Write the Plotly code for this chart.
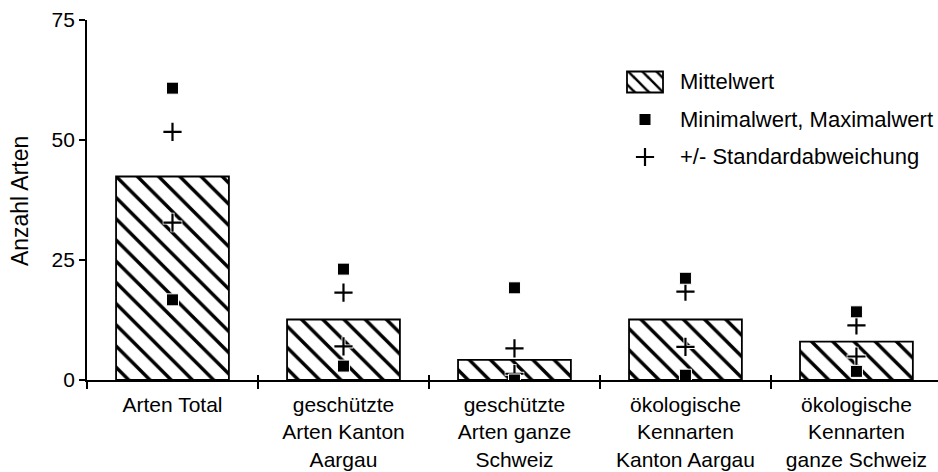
import plotly.graph_objects as go

# Species counts per category
categories = [
    "Arten Total",
    "geschützte<br>Arten Kanton<br>Aargau",
    "geschützte<br>Arten ganze<br>Schweiz",
    "ökologische<br>Kennarten<br>Kanton Aargau",
    "ökologische<br>Kennarten<br>ganze Schweiz",
]
mean_values = [42.4, 12.6, 4.2, 12.6, 8.0]
max_values = [60.8, 23.1, 19.2, 21.2, 14.2]
min_values = [16.7, 2.9, 0.0, 1.0, 1.8]
sd_upper = [51.7, 18.2, 6.6, 18.4, 11.4]
sd_lower = [32.8, 7.0, 1.3, 6.9, 4.9]

legend_labels = ["Mittelwert", "Minimalwert, Maximalwert", "+/- Standardabweichung"]
y_ticks = [0, 25, 50, 75]

FONT = "Liberation Sans, Arial, Helvetica, sans-serif"
n = len(categories)

fig = go.Figure()

# Hatched mean bars
fig.add_trace(go.Bar(
    x=categories, y=mean_values, width=0.66,
    marker=dict(
        color="white",
        line=dict(color="black", width=1.8),
        pattern=dict(shape="\\", size=15, solidity=0.23, fgopacity=1,
                     fgcolor="black", bgcolor="white", fillmode="replace"),
    ),
    showlegend=False, hoverinfo="skip",
))

# Standard deviation crosses (white halo underneath, black cross on top)
sd_x = categories + categories
sd_y = sd_upper + sd_lower
fig.add_trace(go.Scatter(
    x=sd_x, y=sd_y, mode="markers",
    marker=dict(symbol="cross-thin", size=14, line=dict(color="white", width=4)),
    showlegend=False, hoverinfo="skip",
))
fig.add_trace(go.Scatter(
    x=sd_x, y=sd_y, mode="markers",
    marker=dict(symbol="cross-thin", size=13, line=dict(color="black", width=2.2)),
    showlegend=False,
))

# Minimum / maximum squares
fig.add_trace(go.Scatter(
    x=categories + categories, y=max_values + min_values, mode="markers",
    marker=dict(symbol="square", size=12, color="black",
                line=dict(color="white", width=1)),
    showlegend=False,
))

# Boundary tick marks above the x axis line
fig.add_trace(go.Scatter(x=[], y=[], xaxis="x2", yaxis="y", showlegend=False))

# Legend keys drawn in a small inset axis
fig.add_trace(go.Bar(
    x=[25], y=[0.56], base=[-0.28], width=[36], xaxis="x3", yaxis="y3",
    marker=dict(
        color="white",
        line=dict(color="black", width=1.8),
        pattern=dict(shape="\\", size=10, solidity=0.25, fgopacity=1,
                     fgcolor="black", bgcolor="white", fillmode="replace"),
    ),
    showlegend=False, hoverinfo="skip",
))
fig.add_trace(go.Scatter(
    x=[25], y=[1], xaxis="x3", yaxis="y3", mode="markers",
    marker=dict(symbol="square", size=11, color="black"),
    showlegend=False, hoverinfo="skip",
))
fig.add_trace(go.Scatter(
    x=[25], y=[2], xaxis="x3", yaxis="y3", mode="markers",
    marker=dict(symbol="cross-thin", size=13, line=dict(color="black", width=2.2)),
    showlegend=False, hoverinfo="skip",
))

x_range = [-0.5, 4.477]

for i, label in enumerate(legend_labels):
    fig.add_annotation(
        xref="paper", yref="y3", x=0.6945, y=i, text=label,
        showarrow=False, xanchor="left", yanchor="middle",
        font=dict(family=FONT, size=22, color="black"),
    )

fig.add_annotation(
    xref="paper", yref="paper", x=-0.0787, y=0.497, text="Anzahl Arten",
    textangle=-90, showarrow=False, xanchor="center", yanchor="middle",
    font=dict(family=FONT, size=23, color="black"),
)

fig.update_layout(
    width=938, height=472,
    margin=dict(l=87, r=0, t=20, b=92),
    paper_bgcolor="white", plot_bgcolor="white",
    font=dict(family=FONT, size=21, color="black"),
    xaxis=dict(
        type="category", range=x_range,
        showline=True, linecolor="black", linewidth=1.8,
        tickson="boundaries", ticks="outside", ticklen=7,
        tickwidth=1.6, tickcolor="black",
        ticklabelstandoff=5,
        showgrid=False, zeroline=False,
        tickfont=dict(family=FONT, size=21, color="black"),
    ),
    xaxis2=dict(
        overlaying="x", anchor="y", type="linear", range=x_range,
        tickmode="array", tickvals=[i + 0.5 for i in range(n - 1)],
        ticks="inside", ticklen=5, tickwidth=1.6, tickcolor="black",
        showticklabels=False, showline=False, showgrid=False, zeroline=False,
    ),
    yaxis=dict(
        range=[0, 75], tickmode="array", tickvals=y_ticks,
        showline=True, linecolor="black", linewidth=1.8,
        ticks="outside", ticklen=6, tickwidth=1.6, tickcolor="black",
        showgrid=False, zeroline=False,
        tickfont=dict(family=FONT, size=21, color="black"),
    ),
    xaxis3=dict(
        domain=[0.6263, 0.6851], anchor="y3", range=[0, 50],
        visible=False, fixedrange=True,
    ),
    yaxis3=dict(
        domain=[0.5674, 0.8799], anchor="x3", range=[2.5, -0.5],
        visible=False, fixedrange=True,
    ),
)

fig.write_html("out.html")
